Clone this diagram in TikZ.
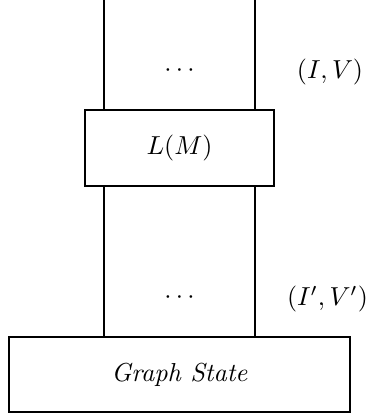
\documentclass[tikz,border=0pt]{standalone}
\begin{document}
\begin{tikzpicture}[x=0.3846pt,y=-0.3846pt,
  blk/.style={draw,inner sep=0pt,line width=0.4pt},
  wire/.style={draw,line width=0.4pt}]
\useasboundingbox (0,0) rectangle (369,419);
\node[blk,minimum width=189*0.3846pt,minimum height=76*0.3846pt] (lm) at (179.5,148) {$L(M)$};
\node[blk,minimum width=341*0.3846pt,minimum height=75*0.3846pt] (gs) at (179.5,374.5) {\textit{Graph State}};
\coordinate (tl) at (104,0);
\coordinate (tr) at (255,0);
\draw[wire] (tl) -- (tl |- lm.north);
\draw[wire] (tr) -- (tr |- lm.north);
\draw[wire] (tl |- lm.south) -- (tl |- gs.north);
\draw[wire] (tr |- lm.south) -- (tr |- gs.north);
\node (d1) at (179.5,71) {$\cdots$};
\node (d2) at (179.5,298) {$\cdots$};
\node (iv) at (330,72) {$(I,V)$};
\node (ivp) at (327.5,299) {$(I',V')$};
\end{tikzpicture}
\end{document}
